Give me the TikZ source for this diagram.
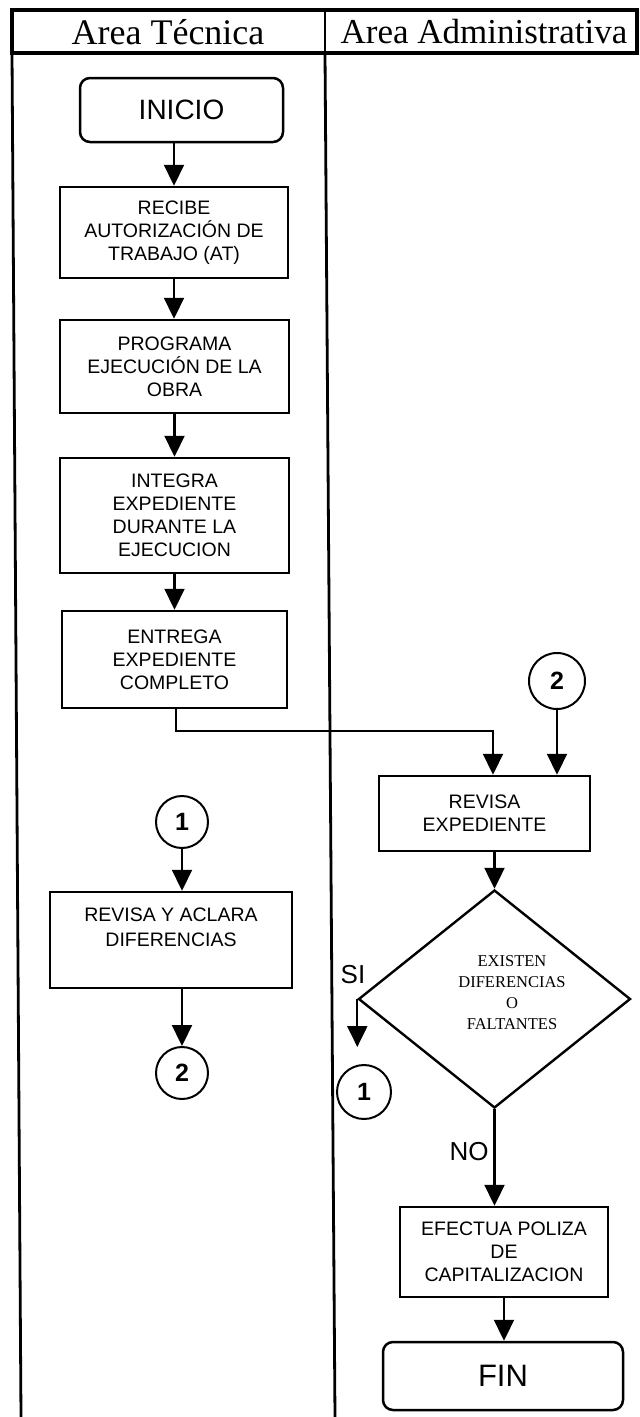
\documentclass[tikz,border=0pt]{standalone}
\usepackage{fontspec}
\setmainfont{Liberation Serif}
\setsansfont{Liberation Sans}
\usetikzlibrary{arrows.meta,shapes.geometric}
\begin{document}
\begin{tikzpicture}[x=1pt,y=-1pt,
  box/.style={draw,line width=2.5pt,rectangle,inner sep=0pt,align=center,font=\sffamily\fontsize{19.5}{23}\selectfont},
  term/.style={draw,line width=2.5pt,rounded corners=10pt,inner sep=0pt,font=\sffamily\fontsize{28}{32}\selectfont},
  conn/.style={draw,circle,line width=2pt,inner sep=0pt,font=\sffamily\bfseries\fontsize{25}{28}\selectfont},
  arr/.style={line width=2.2pt,-{Triangle[width=20pt,length=21pt]}},
  lane/.style={line width=2.8pt},
  hdr/.style={font=\fontsize{35}{40}\selectfont},
  lbl/.style={font=\sffamily\fontsize{26}{30}\selectfont},
  ]
\useasboundingbox (0,0) rectangle (640,1417);
\fill[white] (0,0) rectangle (640,1417);
% lanes
\draw[line width=3.2pt] (12,10) rectangle (637,53);
\draw[lane] (325,10) -- (325,53);
\draw[lane] (12,53) -- (21,1417);
\draw[lane] (325,53) -- (335,1417);
\node[hdr,font=\fontsize{36}{40}\selectfont] (hT) at (168,32) {Area Técnica};
\node[hdr] (hA) at (484,32) {Area Administrativa};
% left lane
\node[term,minimum width=203pt,minimum height=64pt] (inicio) at (181.5,110) {INICIO};
\node[box,minimum width=228pt,minimum height=91pt] (recibe) at (174,232.5) {RECIBE\\AUTORIZACIÓN DE\\TRABAJO (AT)};
\node[box,minimum width=229pt,minimum height=93pt] (programa) at (174.5,366.5) {PROGRAMA\\EJECUCIÓN DE LA\\OBRA};
\node[box,minimum width=229pt,minimum height=115pt] (integra) at (174.5,515.5) {INTEGRA\\EXPEDIENTE\\DURANTE LA\\EJECUCION};
\node[box,minimum width=225pt,minimum height=97pt] (entrega) at (174.5,659.5) {ENTREGA\\EXPEDIENTE\\COMPLETO};
\node[conn,minimum size=52pt] (c1a) at (182,822) {1};
\node[box,minimum width=242pt,minimum height=96pt,font=\sffamily\fontsize{19.5}{25}\selectfont] (revacl) at (171,940) {REVISA Y ACLARA\\DIFERENCIAS\\~};
\node[conn,minimum size=52pt] (c2b) at (182,1073) {2};
% right lane
\node[conn,minimum size=56pt] (c2a) at (557,681) {2};
\node[box,minimum width=211pt,minimum height=75pt] (revexp) at (484.5,813.5) {REVISA\\EXPEDIENTE};
\node[draw,diamond,line width=2.4pt,inner sep=0pt,minimum width=272pt,minimum height=218pt] (dia) at (494.5,999) {};
\node[align=center,font=\fontsize{16.5}{21}\selectfont] (dtext) at (512,993) {EXISTEN\\DIFERENCIAS\\O\\FALTANTES};
\node[lbl] (si) at (353,975) {SI};
\node[conn,minimum size=54pt] (c1b) at (364,1092) {1};
\node[lbl] (no) at (469,1152) {NO};
\node[box,minimum width=208pt,minimum height=90pt] (efectua) at (504,1252) {EFECTUA POLIZA\\DE\\CAPITALIZACION};
\node[term,minimum width=240pt,minimum height=68pt,font=\sffamily\fontsize{31}{34}\selectfont] (fin) at (503,1376) {FIN};
\coordinate (siend) at (360,1047);
% connectors
\draw[arr] (recibe.north |- inicio.south) -- (recibe.north);
\draw[arr] (recibe.south) -- (recibe.south |- programa.north);
\draw[arr] (programa.south) -- (programa.south |- integra.north);
\draw[arr] (integra.south) -- (integra.south |- entrega.north);
\draw[arr] (176,0 |- entrega.south) -- (176,731) -| ([xshift=8.5pt]revexp.north);
\draw[arr] (c2a.south) -- (c2a.south |- revexp.north);
\draw[arr] (dia.north |- revexp.south) -- (dia.north);
\draw[arr] (c1a.south) -- (c1a.south |- revacl.north);
\draw[arr] (c2b.north |- revacl.south) -- (c2b.north);
\draw[arr] (dia.west) -- (dia.west |- siend);
\draw[arr] (dia.south) -- (dia.south |- efectua.north);
\draw[arr] (efectua.south) -- (efectua.south |- fin.north);
\end{tikzpicture}
\end{document}
